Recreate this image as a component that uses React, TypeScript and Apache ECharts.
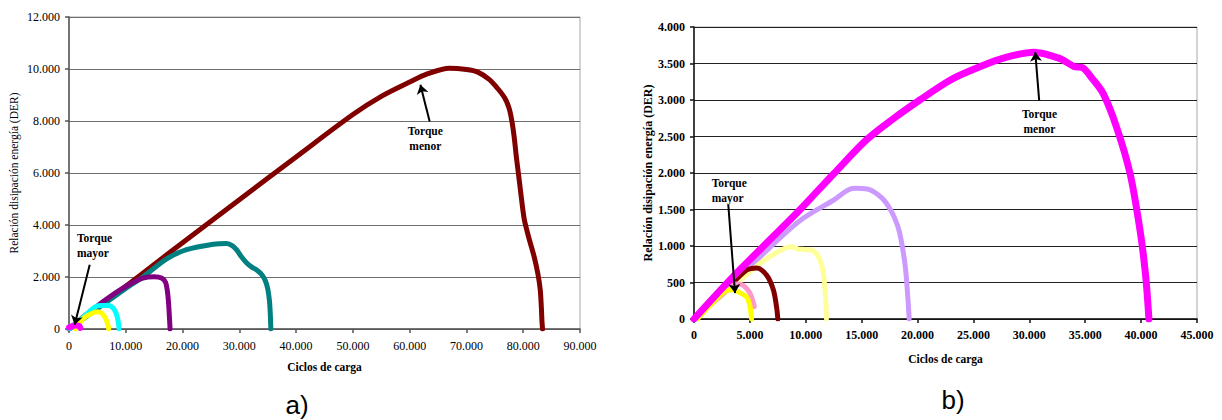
import React, { useEffect, useRef } from "react";
import * as echarts from "echarts";

// ---------- a) ----------
const aXTicks = [0, 90000, 10000];
const aYTicks = [0, 12000, 2000];
const aDarkRed = [[0,0],[5000,820],[10000,1640],[15000,2480],[20000,3320],[30000,4970],[40000,6620],[50000,8250],[55000,8950],[60000,9500],[63000,9800],[67000,10030],[70000,9980],[72000,9880],[74000,9600],[75500,9250],[76700,8900],[77500,8500],[78000,8000],[78400,7400],[78800,6600],[79200,5900],[79700,5000],[80200,4200],[81000,3500],[81900,2800],[82600,2100],[83000,1500],[83200,800],[83300,300],[83400,0]];
const aTeal = [[0,0],[5000,780],[10000,1560],[13000,2000],[17200,2700],[20700,3050],[25400,3260],[27800,3290],[28800,3200],[29500,3050],[30300,2800],[31300,2540],[32200,2380],[33000,2280],[33800,2130],[34500,1900],[35000,1550],[35300,1100],[35450,600],[35550,0]];
const aPurple = [[0,0],[4000,720],[8000,1360],[11000,1760],[13000,1960],[15000,2010],[16300,1960],[17000,1800],[17300,1500],[17500,1100],[17650,600],[17800,0]];
const aCyan = [[0,0],[2500,450],[4500,830],[5500,900],[7000,900],[7800,800],[8300,600],[8700,250],[8800,0]];
const aYellow = [[1200,0],[2500,400],[4000,600],[5000,660],[5800,600],[6400,420],[6800,200],[7000,0]];
const aMagenta = [[0,60],[600,110],[1200,130],[1800,120],[2000,40]];

// ---------- b) ----------
const bXTicks = [0, 45000, 5000];
const bYTicks = [0, 4000, 500];
const bLavender = [[0,0],[3500,480],[6500,940],[9500,1350],[12400,1620],[14300,1790],[15500,1780],[16500,1700],[17200,1590],[17900,1400],[18400,1180],[18900,720],[19150,250],[19250,0]];
const bLightYellow = [[0,0],[3500,450],[5900,760],[7500,920],[8600,990],[9300,960],[10000,950],[10700,930],[11200,830],[11550,650],[11750,350],[11850,0]];
const bDarkRed = [[0,0],[3500,500],[4700,670],[5600,700],[6500,600],[7100,400],[7400,150],[7500,0]];
const bPink = [[0,0],[2500,330],[3700,480],[4300,470],[4900,380],[5200,280],[5400,170]];
const bYellow = [[300,0],[1500,200],[2900,390],[3500,400],[4100,360],[4700,300],[5000,180],[5150,0]];
const bMagenta = [[0,0],[3500,580],[6500,1040],[9500,1500],[12500,1990],[15400,2450],[17800,2740],[20200,3000],[22900,3270],[24700,3400],[27400,3560],[30400,3655],[32700,3570],[34000,3460],[34800,3440],[35600,3300],[36600,3090],[37800,2630],[39000,2000],[39900,1220],[40400,600],[40700,0]];

// annotations (data coordinates)
const aArrowMayor = [[3650, 2473], [1000, 165]];
const aArrowMenor = [[63520, 7985], [61890, 9396]];
const aTextMayor = [1410, 3211];
const aTextMenor = [62750, 7312];
const bArrowMayor = [[3070, 1561], [3670, 355]];
const bArrowMenor = [[30880, 2995], [30530, 3655]];
const bTextMayor = [1585, 1766];
const bTextMenor = [30910, 2712];

const SERIF = "Liberation Serif";
const fmt = (v: number) => String(v).replace(/\B(?=(\d{3})+(?!\d))/g, ".");

function line(data: number[][], color: string, xi: number, width = 5, extra: any = {}) {
  return {
    type: "line",
    xAxisIndex: xi,
    yAxisIndex: xi,
    data,
    symbol: "none",
    smooth: 0.3,
    lineStyle: { color, width, cap: "round", join: "round" },
    itemStyle: { color },
    silent: true,
    ...extra,
  };
}

function annot(arrows: number[][][], texts: { coord: number[]; text: string; align: string }[]) {
  return {
    markLine: {
      silent: true,
      animation: false,
      symbol: ["none", "arrow"],
      symbolSize: 9,
      label: { show: false },
      lineStyle: { color: "#000", width: 2, type: "solid" },
      data: arrows.map((a) => [{ coord: a[0] }, { coord: a[1] }]),
    },
    markPoint: {
      silent: true,
      animation: false,
      symbol: "circle",
      symbolSize: 1,
      itemStyle: { color: "rgba(0,0,0,0)" },
      data: texts.map((t) => ({
        coord: t.coord,
        label: {
          show: true,
          position: "inside",
          formatter: t.text,
          align: t.align,
          verticalAlign: "middle",
          fontFamily: SERIF,
          fontWeight: "bold",
          fontSize: 11.5,
          lineHeight: 15,
          color: "#000",
        },
      })),
    },
  };
}

export default function App() {
  const ref = useRef<HTMLDivElement>(null);
  useEffect(() => {
    document.body.style.margin = "0";
    const chart = echarts.init(ref.current!, null, { renderer: "svg" });
    const xAxisCommon = (ticks: number[], bold: boolean, color: string, margin: number, nameGap: number) => ({
      type: "value",
      min: ticks[0],
      max: ticks[1],
      interval: ticks[2],
      name: "Ciclos de carga",
      nameLocation: "middle",
      nameGap,
      nameTextStyle: { fontFamily: SERIF, fontWeight: "bold", fontSize: 11.5, color: "#000" },
      axisLine: { show: true, lineStyle: { color, width: 1.5 } },
      axisTick: { show: true, length: 4, lineStyle: { color, width: 1.5 } },
      axisLabel: { fontFamily: SERIF, fontSize: 12, fontWeight: bold ? "bold" : "normal", color: "#000", margin, formatter: fmt },
      splitLine: { show: false },
    });
    const yAxisCommon = (ticks: number[], bold: boolean, color: string, gridColor: string, nameGap: number) => ({
      type: "value",
      min: ticks[0],
      max: ticks[1],
      interval: ticks[2],
      name: "Relación disipación energía (DER)",
      nameLocation: "middle",
      nameGap,
      nameTextStyle: { fontFamily: SERIF, fontWeight: bold ? "bold" : "normal", fontSize: bold ? 12 : 11.5, color: "#000" },
      axisLine: { show: true, lineStyle: { color, width: 1.5 } },
      axisTick: { show: true, length: 4, lineStyle: { color, width: 1.5 } },
      axisLabel: { fontFamily: SERIF, fontSize: 12, fontWeight: bold ? "bold" : "normal", color: "#000", margin: 9, formatter: fmt },
      splitLine: { show: true, lineStyle: { color: gridColor, width: 1.2 } },
    });
    chart.setOption({
      animation: false,
      textStyle: { fontFamily: SERIF },
      grid: [
        { left: 69, top: 17, width: 511, height: 312, show: true, borderColor: "#a8a8a8", borderWidth: 1, backgroundColor: "transparent" },
        { left: 694, top: 27, width: 503, height: 292, show: true, borderColor: "#a8a8a8", borderWidth: 1, backgroundColor: "transparent" },
      ],
      xAxis: [
        { ...xAxisCommon(aXTicks, false, "#555", 11, 32), gridIndex: 0 },
        { ...xAxisCommon(bXTicks, true, "#111", 10, 34), gridIndex: 1 },
      ],
      yAxis: [
        { ...yAxisCommon(aYTicks, false, "#555", "#6e6e6e", 49), gridIndex: 0 },
        { ...yAxisCommon(bYTicks, true, "#111", "#222", 39), gridIndex: 1 },
      ],
      graphic: [
        { type: "text", x: 297, y: 405, style: { text: "a)", fontFamily: "Liberation Sans", fontSize: 26, fill: "#000", textAlign: "center", textVerticalAlign: "middle" } },
        { type: "text", x: 953, y: 400, style: { text: "b)", fontFamily: "Liberation Sans", fontSize: 26, fill: "#000", textAlign: "center", textVerticalAlign: "middle" } },
      ],
      series: [
        line(aDarkRed, "#800000", 0),
        line(aTeal, "#008080", 0),
        line(aPurple, "#800080", 0),
        line(aCyan, "#00FFFF", 0),
        line(aYellow, "#FFFF00", 0),
        line(aMagenta, "#FF00FF", 0, 6, annot([aArrowMayor, aArrowMenor], [
          { coord: aTextMayor, text: "Torque\nmayor", align: "left" },
          { coord: aTextMenor, text: "Torque\nmenor", align: "center" },
        ])),
        line(bLavender, "#CC99FF", 1),
        line(bLightYellow, "#FFFF99", 1),
        line(bDarkRed, "#800000", 1),
        line(bPink, "#FF99CC", 1),
        line(bYellow, "#FFFF00", 1),
        line(bMagenta, "#FF00FF", 1, 7, annot([bArrowMayor, bArrowMenor], [
          { coord: bTextMayor, text: "Torque\nmayor", align: "left" },
          { coord: bTextMenor, text: "Torque\nmenor", align: "center" },
        ])),
      ],
    });
    return () => chart.dispose();
  }, []);
  return <div ref={ref} style={{ width: 1222, height: 420 }} />;
}
